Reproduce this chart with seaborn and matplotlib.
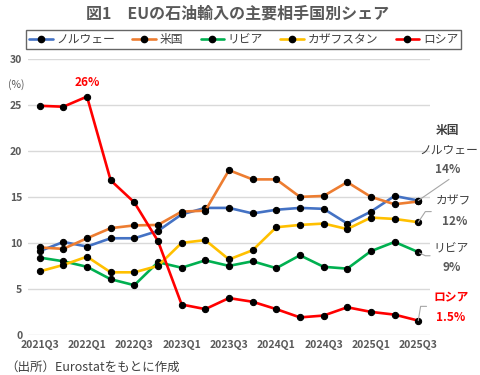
import numpy as np
import pandas as pd
import seaborn as sns
import matplotlib.pyplot as plt
from matplotlib.lines import Line2D

# データ
quarters = ['2021Q3', '2021Q4', '2022Q1', '2022Q2', '2022Q3', '2022Q4',
            '2023Q1', '2023Q2', '2023Q3', '2023Q4', '2024Q1', '2024Q2',
            '2024Q3', '2024Q4', '2025Q1', '2025Q2', '2025Q3']
norway = [9.1, 10.1, 9.6, 10.5, 10.5, 11.3, 13.1, 13.8, 13.8, 13.2, 13.6, 13.8,
          13.7, 12.1, 13.4, 15.1, 14.6]
usa = [9.5, 9.35, 10.5, 11.6, 11.9, 11.95, 13.4, 13.5, 17.9, 16.9, 16.9, 15.0,
       15.1, 16.6, 15.0, 14.2, 14.5]
libya = [8.4, 8.0, 7.4, 6.05, 5.4, 7.9, 7.3, 8.1, 7.5, 8.0, 7.25, 8.65,
         7.4, 7.2, 9.1, 10.1, 9.0]
kazakhstan = [6.9, 7.6, 8.5, 6.8, 6.8, 7.5, 10.0, 10.3, 8.2, 9.2, 11.7, 11.95,
              12.1, 11.5, 12.75, 12.6, 12.25]
russia = [24.9, 24.8, 25.9, 16.8, 14.4, 10.2, 3.3, 2.8, 4.0, 3.6, 2.8, 1.9,
          2.1, 3.0, 2.5, 2.2, 1.55]

countries = ['ノルウェー', '米国', 'リビア', 'カザフスタン', 'ロシア']
colors = ['#4472C4', '#ED7D31', '#00B050', '#FFC000', '#FF0000']
xticks_shown = quarters[::2]

series = [norway, usa, libya, kazakhstan, russia]
df = pd.DataFrame({
    'quarter': np.tile(np.arange(len(quarters)), len(countries)),
    'country': np.repeat(countries, len(quarters)),
    'share': np.concatenate(series),
})

sns.set_theme(style='white')
plt.rcParams['font.family'] = ['Noto Sans CJK JP', 'DejaVu Sans']

gray = '#595959'
dark = '#404040'

fig = plt.figure(figsize=(4.8, 3.75), dpi=100)
ax = fig.add_axes([0.058, 0.107, 0.838, 0.736])

sns.lineplot(data=df, x='quarter', y='share', hue='country',
             palette=dict(zip(countries, colors)), hue_order=countries,
             marker='o', markersize=4.5, markerfacecolor='black',
             markeredgecolor='black', linewidth=1.9, legend=False, ax=ax)

ax.set_xlim(-0.5, len(quarters) - 0.5)
ax.set_ylim(0, 30)
ax.set_yticks(range(0, 31, 5))
ax.set_xticks(range(0, len(quarters), 2))
ax.set_xticklabels(xticks_shown)
ax.tick_params(axis='both', labelsize=7.5, colors=gray, length=0, pad=4)
for lab in ax.get_xticklabels() + ax.get_yticklabels():
    lab.set_fontweight('bold')
ax.grid(axis='y', color='#D9D9D9', linewidth=1)
ax.grid(axis='x', visible=False)
for s in ax.spines.values():
    s.set_visible(False)
ax.set_xlabel('')
ax.set_ylabel('')

# 注記
ax.text(-1.0, 27.2, '(%)', fontsize=7.5, color=gray, ha='center', va='center',
        clip_on=False)
ax.text(2.0, 27.4, '26%', fontsize=8.5, color='#FF0000', fontweight='bold',
        ha='center', va='center')

lc = '#A6A6A6'
ax.plot([16, 17.3], [14.6, 16.9], color=lc, lw=0.8, clip_on=False)
ax.plot([16, 16.3, 16.55], [12.25, 13.4, 13.4], color=lc, lw=0.8, clip_on=False)
ax.plot([16.05, 16.3, 16.5], [8.9, 8.6, 8.6], color=lc, lw=0.8, clip_on=False)
ax.plot([16, 16.1, 16.35], [1.55, 3.1, 3.1], color=lc, lw=0.8, clip_on=False)

ann = [
    (17.25, 22.2, '米国', dark, 'bold'),
    (17.3, 20.1, 'ノルウェー', dark, 'normal'),
    (17.25, 18.0, '14%', gray, 'bold'),
    (17.5, 14.5, 'カザフ', dark, 'normal'),
    (17.55, 12.3, '12%', gray, 'bold'),
    (17.4, 9.3, 'リビア', dark, 'normal'),
    (17.4, 7.3, '9%', gray, 'bold'),
    (17.4, 4.1, 'ロシア', '#FF0000', 'bold'),
    (17.35, 1.85, '1.5%', '#FF0000', 'bold'),
]
for x, y, t, c, w in ann:
    ax.text(x, y, t, fontsize=8.5, color=c, fontweight=w, ha='center',
            va='center', clip_on=False)

# 凡例
handles = [Line2D([0], [0], color=c, lw=1.9, marker='o', markersize=4.5,
                  markerfacecolor='black', markeredgecolor='black')
           for c in colors]
leg = fig.legend(handles, countries, ncol=5, loc='lower left',
                 bbox_to_anchor=(26 / 480, 1 - 49 / 375, 435 / 480, 20 / 375),
                 mode='expand', fontsize=8.5, frameon=True, fancybox=False,
                 handlelength=2.0, handletextpad=0.3, columnspacing=1.0,
                 borderpad=0.25, borderaxespad=0)
leg.get_frame().set_edgecolor('#404040')
leg.get_frame().set_linewidth(1.0)
for t in leg.get_texts():
    t.set_color(dark)

fig.text(0.495, 0.963, '図1　EUの石油輸入の主要相手国別シェア', fontsize=11.5,
         fontweight='bold', color=gray, ha='center', va='center')
fig.text(0.01, 0.021, '（出所）Eurostatをもとに作成', fontsize=9,
         color=dark, ha='left', va='center')

fig.savefig('out.png', dpi=100)
